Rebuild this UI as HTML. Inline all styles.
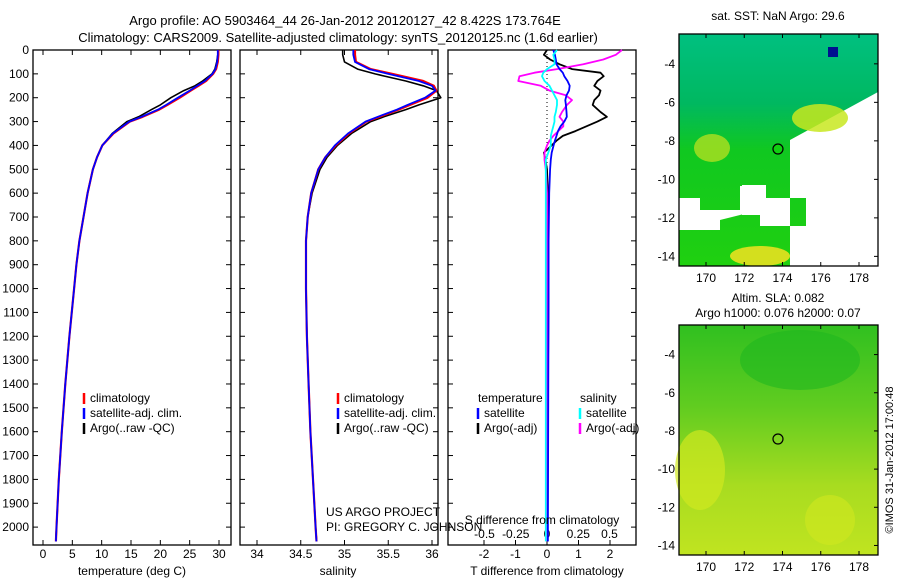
<!DOCTYPE html>
<html><head><meta charset="utf-8"><style>
body{margin:0;background:#fff;}
svg{display:block;font-family:"Liberation Sans",sans-serif;}
</style></head><body>
<svg id="fig" width="900" height="580" viewBox="0 0 900 580" xmlns="http://www.w3.org/2000/svg">
<defs>
<linearGradient id="slaG" x1="0" y1="0" x2="0" y2="1">
<stop offset="0" stop-color="#30c020"/><stop offset="0.35" stop-color="#60cc20"/><stop offset="0.7" stop-color="#a8dc20"/><stop offset="1" stop-color="#c0e420"/></linearGradient>
<linearGradient id="sstG" x1="0" y1="0" x2="0" y2="1">
<stop offset="0" stop-color="#00c080"/><stop offset="0.3" stop-color="#00b860"/><stop offset="0.5" stop-color="#10c820"/><stop offset="1" stop-color="#20d010"/></linearGradient>
</defs>
<text x="345" y="25" font-size="13" text-anchor="middle">Argo profile: AO 5903464_44 26-Jan-2012 20120127_42 8.422S 173.764E</text>
<text x="338" y="42" font-size="13" text-anchor="middle">Climatology: CARS2009. Satellite-adjusted climatology: synTS_20120125.nc (1.6d earlier)</text>
<g id="p1"></g>
<g id="p2"></g>
<g id="p3"></g>
<g id="m1"></g>
<g id="m2"></g>
<text transform="translate(893,460) rotate(-90)" font-size="11" text-anchor="middle">©IMOS 31-Jan-2012 17:00:48</text>
</svg>
<script>
const NS="http://www.w3.org/2000/svg";
const depths=[0,20,50,80,100,130,150,170,200,230,250,280,300,350,400,450,500,600,700,800,900,1000,1200,1400,1600,1800,2000,2060];
const tempClim=[29.9,29.9,29.8,29.5,29.0,27.8,26.5,25.2,23.3,21.2,19.8,17.0,14.8,12.0,10.1,9.2,8.5,7.6,6.9,6.2,5.7,5.3,4.5,3.8,3.2,2.7,2.3,2.2];
const tempSat=[29.8,29.8,29.7,29.4,28.9,27.6,26.3,25.0,23.0,21.0,19.6,16.8,14.7,11.9,10.1,9.2,8.5,7.6,6.9,6.2,5.7,5.3,4.5,3.8,3.2,2.7,2.3,2.2];
const argoDepth=[0,20,50,80,100,130,150,170,200,230,250,280,300,350,400,450,500,600,700,800,900,1000,1200,1400,1600,1800,2000,2050];
const tempArgo=[29.9,29.8,29.6,29.3,28.8,27.2,25.9,24.0,21.8,20.0,18.5,16.3,14.3,11.8,10.1,9.2,8.5,7.6,6.9,6.2,5.7,5.3,4.5,3.8,3.2,2.7,2.3,2.2];
const salClim=[35.12,35.12,35.13,35.3,35.55,35.9,36.02,36.05,35.95,35.75,35.62,35.4,35.25,35.05,34.9,34.78,34.7,34.62,34.58,34.56,34.56,34.56,34.57,34.59,34.61,34.64,34.67,34.68];
const salSat=[35.1,35.1,35.12,35.28,35.5,35.85,36.0,36.04,35.92,35.72,35.6,35.38,35.24,35.04,34.89,34.78,34.7,34.62,34.58,34.56,34.56,34.56,34.57,34.59,34.61,34.64,34.67,34.68];
const salArgo=[34.98,34.98,35.0,35.15,35.35,35.7,35.9,36.05,36.1,35.85,35.7,35.45,35.3,35.08,34.92,34.8,34.72,34.63,34.58,34.56,34.56,34.56,34.57,34.59,34.61,34.64,34.67,34.68];
const diffDepth=[0,20,40,60,80,95,110,130,150,170,190,210,230,260,280,300,320,340,360,380,400,430,460,500,600,800,1000,1400,2000,2060];
const tDiffArgo=[0,-0.1,0.1,0.4,0.8,1.7,1.8,1.6,1.5,1.7,1.65,1.5,1.45,1.7,1.9,1.6,1.25,0.9,0.5,0.3,0.15,-0.1,-0.05,0,0.03,0.05,0.05,0.03,0.02,0.02];
const tDiffSat=[0.2,0.25,0.28,0.3,0.4,0.5,0.55,0.65,0.72,0.7,0.62,0.58,0.6,0.62,0.63,0.55,0.43,0.35,0.3,0.25,0.21,0.15,0.12,0.1,0.07,0.05,0.05,0.04,0.03,0.03];
const sDiffArgo=[0.6,0.55,0.45,0.29,0.08,-0.1,-0.22,-0.23,-0.05,0.02,0.15,0.2,0.16,0.12,0.1,0.13,0.13,0.09,0.05,0.02,0,-0.02,-0.02,-0.01,0,0,0,0,0,0];
const sDiffSat=[0.08,0.05,0.06,0.06,0.0,-0.03,-0.04,-0.02,0.02,0.04,0.06,0.08,0.08,0.07,0.06,0.06,0.05,0.04,0.03,0.03,0.03,0.01,-0.01,-0.01,-0.01,-0.01,-0.01,-0.01,-0.01,-0.01];
const depthTicks=[0,100,200,300,400,500,600,700,800,900,1000,1100,1200,1300,1400,1500,1600,1700,1800,1900,2000];
const tempTicks=[0,5,10,15,20,25,30];
const salTicks=[34,34.5,35,35.5,36];
const tdTicks=[-2,-1,0,1,2];
const sdTicks=[-0.5,-0.25,0,0.25,0.5];
const lonTicks=[170,172,174,176,178];
const latTicks1=[-4,-6,-8,-10,-12,-14];
const argoPos=[173.764,-8.422];

const Y0=50, Y1=545, D0=0, D1=2075;
const yD=d=>Y0+(d-D0)/(D1-D0)*(Y1-Y0);
function el(p,tag,a,txt){const e=document.createElementNS(NS,tag);for(const k in a)e.setAttribute(k,a[k]);if(txt!==undefined)e.textContent=txt;p.appendChild(e);return e;}
function line(g,xs,ds,xf,color,w,name){
  const pts=xs.map((v,i)=>xf(v).toFixed(1)+","+yD(ds[i]).toFixed(1)).join(" ");
  const e=el(g,"polyline",{points:pts,fill:"none",stroke:color,"stroke-width":w,"stroke-linejoin":"round"});
  
  
}
function frame(g,x0,x1){el(g,"rect",{x:x0,y:Y0,width:x1-x0,height:Y1-Y0,fill:"none",stroke:"#000","stroke-width":1.3});}
function ticksY(g,x0,x1,labels){
  depthTicks.forEach(d=>{const y=yD(d);
    el(g,"line",{x1:x0,x2:x0+5,y1:y,y2:y,stroke:"#000"});
    el(g,"line",{x1:x1,x2:x1-5,y1:y,y2:y,stroke:"#000"});
    if(labels){const t=el(g,"text",{x:x0-4,y:y+4,"font-size":12,"text-anchor":"end"},String(d));
      }
  });
}
function ticksX(g,ticks,xf,ty,top,fmt){
  ticks.forEach(v=>{const x=xf(v);
    el(g,"line",{x1:x,x2:x,y1:Y1,y2:Y1-5,stroke:"#000"});
    if(top)el(g,"line",{x1:x,x2:x,y1:Y0,y2:Y0+5,stroke:"#000"});
    const t=el(g,"text",{x:x,y:ty,"font-size":12,"text-anchor":"middle"},fmt?fmt(v):String(v));
    
  });
}
function legend(g,x,y,items){
  items.forEach((it,i)=>{const yy=y+i*15;
    if(it.c)el(g,"line",{x1:x,x2:x,y1:yy-9,y2:yy+2,stroke:it.c,"stroke-width":2.5});
    const t=el(g,"text",{x:x+(it.c?6:0),y:yy,"font-size":12},it.t);
    
  });
}
// Panel 1
const p1=document.getElementById("p1");
const xT=v=>43+v*(219-43)/30;
frame(p1,33,231);ticksY(p1,33,231,true);ticksX(p1,tempTicks,xT,558,true);
line(p1,tempArgo,argoDepth,xT,"#000",1.6,"temp-argo-line");
line(p1,tempClim,depths,xT,"#f00",2.2,"temp-climatology-line");
line(p1,tempSat,depths,xT,"#00f",1.8,"temp-satellite-line");
el(p1,"text",{x:132,y:575,"font-size":12,"text-anchor":"middle"},"temperature (deg C)");
legend(p1,84,402,[{c:"#f00",t:"climatology"},{c:"#00f",t:"satellite-adj. clim."},{c:"#000",t:"Argo(..raw -QC)"}]);
// Panel 2
const p2=document.getElementById("p2");
const xS=v=>257+(v-34)*87.5;
frame(p2,240,438);ticksY(p2,240,438,false);ticksX(p2,salTicks,xS,558,true);
line(p2,salArgo,argoDepth,xS,"#000",1.6,"sal-argo-line");
line(p2,salClim,depths,xS,"#f00",2.2,"sal-climatology-line");
line(p2,salSat,depths,xS,"#00f",1.8,"sal-satellite-line");
el(p2,"text",{x:338,y:575,"font-size":12,"text-anchor":"middle"},"salinity");
legend(p2,338,402,[{c:"#f00",t:"climatology"},{c:"#00f",t:"satellite-adj. clim."},{c:"#000",t:"Argo(..raw -QC)"}]);
el(p2,"text",{x:326,y:516,"font-size":12},"US ARGO PROJECT");
el(p2,"text",{x:326,y:531,"font-size":12},"PI: GREGORY C. JOHNSON");
// Panel 3
const p3=document.getElementById("p3");
const xTd=v=>547+v*31.5, xSd=v=>547+v*125;
frame(p3,448,636);ticksY(p3,448,636,false);ticksX(p3,tdTicks,xTd,558,false);
sdTicks.forEach(v=>{const t=el(p3,"text",{x:xSd(v),y:538,"font-size":12,"text-anchor":"middle"},String(v).replace("0.",".").replace("-.","-0.").replace(/^\./,"0."));
  });
el(p3,"line",{x1:547,x2:547,y1:Y0,y2:Y1,stroke:"#000","stroke-dasharray":"1,3"});
line(p3,tDiffArgo,diffDepth,xTd,"#000",1.8,"tdiff-argo-line");
line(p3,sDiffArgo,diffDepth,xSd,"#f0f",1.8,"sdiff-argo-line");
line(p3,tDiffSat,diffDepth,xTd,"#00f",1.8,"tdiff-satellite-line");
line(p3,sDiffSat,diffDepth,xSd,"#0ff",1.8,"sdiff-satellite-line");
el(p3,"text",{x:542,y:524,"font-size":12,"text-anchor":"middle"},"S difference from climatology");
el(p3,"text",{x:547,y:575,"font-size":12,"text-anchor":"middle"},"T difference from climatology");
legend(p3,478,402,[{t:"temperature"},{c:"#00f",t:"satellite"},{c:"#000",t:"Argo(-adj)"}]);
legend(p3,580,402,[{t:"salinity"},{c:"#0ff",t:"satellite"},{c:"#f0f",t:"Argo(-adj)"}]);
// Maps
function map(g,top,bot,latT,title,titleY,fill){
  const L=679,R=878, xl=v=>706+(v-170)*19.125, yl=v=>top+(-2.45-v)*(bot-top)/12.05;
  el(g,"rect",{x:L,y:top,width:R-L,height:bot-top,fill:fill});
  return {L,R,xl,yl,done(){
    el(g,"rect",{x:L,y:top,width:R-L,height:bot-top,fill:"none",stroke:"#000","stroke-width":1.3});
    lonTicks.forEach(v=>{el(g,"line",{x1:xl(v),x2:xl(v),y1:bot,y2:bot-4,stroke:"#000"});el(g,"line",{x1:xl(v),x2:xl(v),y1:top,y2:top+4,stroke:"#000"});
      el(g,"text",{x:xl(v),y:bot+16,"font-size":12,"text-anchor":"middle"},String(v));});
    latT.forEach(v=>{el(g,"line",{x1:R,x2:R-4,y1:yl(v),y2:yl(v),stroke:"#000"});
      el(g,"text",{x:L-4,y:yl(v)+4,"font-size":12,"text-anchor":"end"},String(v));});
    titleY.forEach((t,i)=>el(g,"text",{x:778,y:t[1],"font-size":12,"text-anchor":"middle"},t[0]));
  }};
}
const m1=document.getElementById("m1");
const A=map(m1,34,266,latTicks1,"",[["sat. SST: NaN Argo: 29.6",20]],"url(#sstG)");
// white (missing) regions and warm patches
el(m1,"polygon",{points:"790,140 878,92 878,266 806,266 806,198 790,198",fill:"#fff"});
el(m1,"polygon",{points:"679,198 700,198 700,210 740,210 740,186 766,186 766,198 790,198 790,266 806,266 806,226 760,226 760,210 720,220 720,230 679,230",fill:"#fff"});
el(m1,"rect",{x:742,y:185,width:24,height:30,fill:"#fff"});
el(m1,"ellipse",{cx:820,cy:118,rx:28,ry:14,fill:"#c8e820",opacity:0.85});
el(m1,"ellipse",{cx:712,cy:148,rx:18,ry:14,fill:"#b0e020",opacity:0.8});
el(m1,"ellipse",{cx:760,cy:256,rx:30,ry:10,fill:"#e8e020",opacity:0.9});
el(m1,"rect",{x:828,y:47,width:10,height:10,fill:"#001090"});
el(m1,"circle",{cx:A.xl(argoPos[0]),cy:A.yl(argoPos[1]),r:5,fill:"#10d010",stroke:"#000","stroke-width":1.2,});
A.done();
const m2=document.getElementById("m2");
const B=map(m2,325,555,[-4,-6,-8,-10,-12,-14],"",[["Altim. SLA: 0.082",302],["Argo h1000: 0.076 h2000: 0.07",317]],"url(#slaG)");
el(m2,"ellipse",{cx:700,cy:470,rx:25,ry:40,fill:"#d0e820",opacity:0.7});
el(m2,"ellipse",{cx:830,cy:520,rx:25,ry:25,fill:"#d0e820",opacity:0.6});
el(m2,"ellipse",{cx:800,cy:360,rx:60,ry:30,fill:"#20b820",opacity:0.6});
el(m2,"circle",{cx:B.xl(argoPos[0]),cy:B.yl(argoPos[1])+(354-64)-(325-34)+1,r:5,fill:"none",stroke:"#000","stroke-width":1.2,});
B.done();
</script>
</body></html>
